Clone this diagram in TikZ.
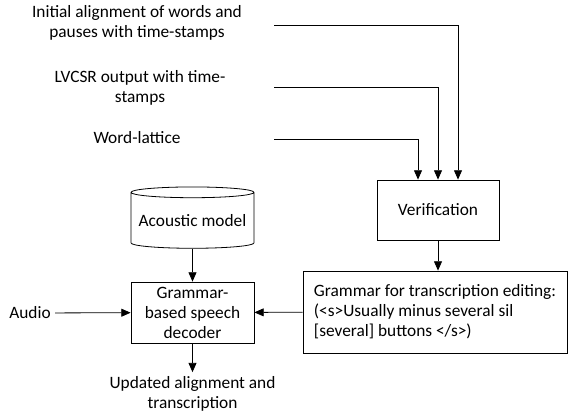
\documentclass[tikz,border=0pt]{standalone}
\usepackage{fontspec}
\setmainfont{Carlito}
\usepackage{tikz}
\usetikzlibrary{positioning,shapes.geometric,arrows.meta}

\tikzset{
    box/.style={draw, line width=0.6pt, align=center, inner sep=0pt},
    lbl/.style={align=center, inner sep=3pt},
}

\begin{document}
\begin{tikzpicture}[x=0.75pt, y=-0.75pt, line width=0.6pt,
        >={Triangle[length=7pt, width=6pt]},
        font=\fontsize{13}{15}\selectfont]
            \useasboundingbox (0,0) rectangle (570,414);

            % Inputs
            \node (init) [lbl] at (137,23) {Initial alignment of words and\\pauses with time-stamps};
            \node (lvcsr) [lbl] at (140,88) {LVCSR output with time-\\stamps};
            \node (lattice) [lbl] at (137,138) {Word-lattice};
            \coordinate (init-out) at (274,25);
            \coordinate (lvcsr-out) at (274,87);
            \coordinate (lattice-out) at (274,139);

            % Blocks
            \node (verif) [box, minimum width=91.5pt, minimum height=45pt] at (438,210) {Verification};
            \node (gram) [box, align=left, minimum width=198pt, minimum height=61.5pt] at (435,312)
                {Grammar for transcription editing:\\(<s>Usually minus several sil\\{[several]} buttons </s>)};
            \node (acm) [box, cylinder, shape border rotate=90, aspect=0.1, minimum width=92.25pt, minimum height=46pt] at (192.5,220.5) {Acoustic model};
            \node (dec) [box, minimum width=92.25pt, minimum height=45.75pt] at (192.5,312.5) {Grammar-\\based speech\\decoder};
            \node (audio) [lbl] at (30,313) {Audio};
            \node (out) [lbl] at (192.5,394) {Updated alignment and\\transcription};

            % Edges
            \draw [->] (init-out) -| ([xshift=15pt]verif.north);
            \draw [->] (lvcsr-out) -| (verif.north);
            \draw [->] (lattice-out) -| ([xshift=-15pt]verif.north);
            \draw [->] (verif.south) -- (verif.south |- gram.north);
            \draw [->] (gram) -- (dec);
            \draw [->] (acm) -- (dec);
            \draw [->] (audio) -- (dec);
            \draw [->] (dec) -- (out);
        \end{tikzpicture}
\end{document}
